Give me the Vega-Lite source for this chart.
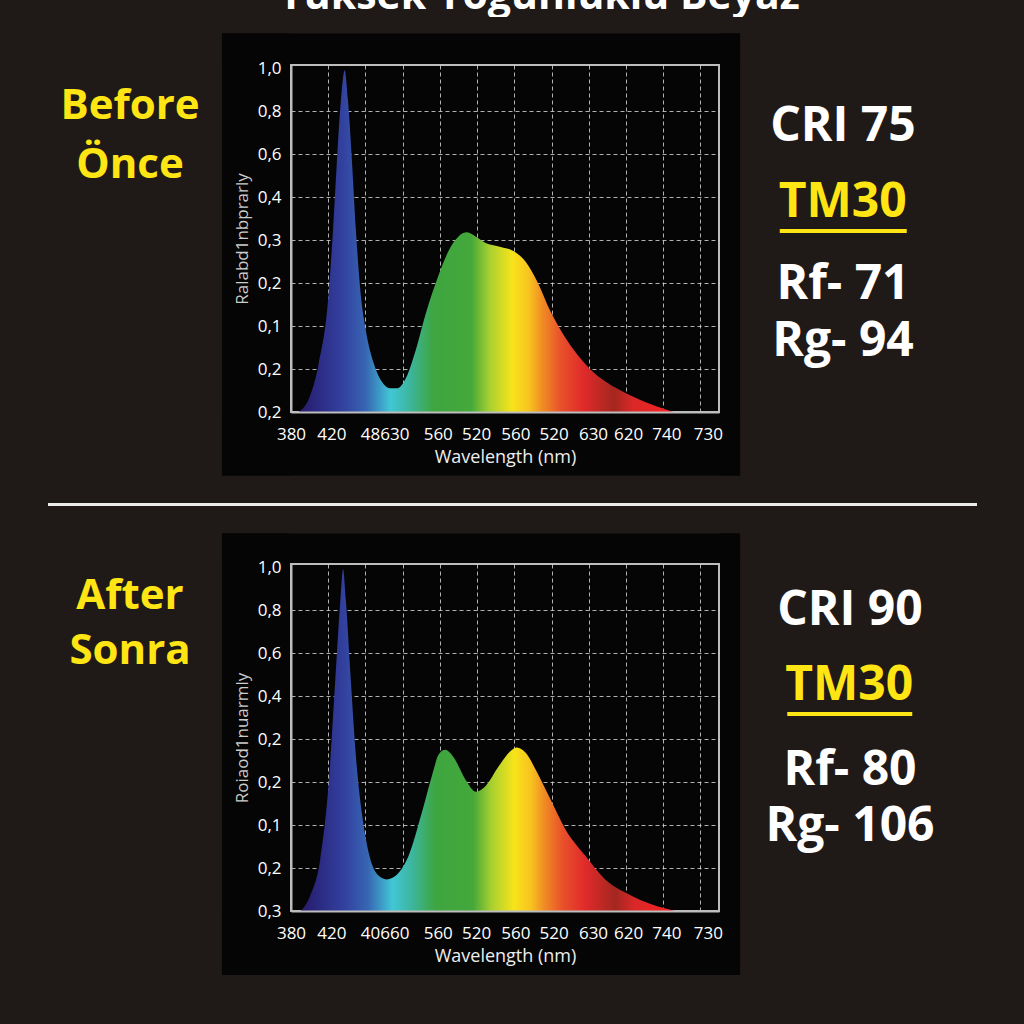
{
  "$schema": "https://vega.github.io/schema/vega-lite/v6.json",
  "background": "#1f1a17",
  "padding": 0,
  "spacing": 0,
  "config": {
    "view": {"stroke": null},
    "concat": {"spacing": 0},
    "font": "Open Sans"
  },
  "datasets": {
    "before": [
      {"wl": 387, "rel": 0}, {"wl": 397, "rel": 0.04}, {"wl": 406, "rel": 0.14}, {"wl": 415, "rel": 0.33},
      {"wl": 419.5, "rel": 0.53}, {"wl": 423, "rel": 0.72}, {"wl": 427, "rel": 0.91}, {"wl": 430.5, "rel": 0.995},
      {"wl": 433.5, "rel": 0.91}, {"wl": 437.5, "rel": 0.72}, {"wl": 441, "rel": 0.53}, {"wl": 446, "rel": 0.33},
      {"wl": 450.5, "rel": 0.235}, {"wl": 458, "rel": 0.14}, {"wl": 465, "rel": 0.09}, {"wl": 473, "rel": 0.069},
      {"wl": 480, "rel": 0.069}, {"wl": 487.5, "rel": 0.095}, {"wl": 497, "rel": 0.177}, {"wl": 506.5, "rel": 0.284},
      {"wl": 519, "rel": 0.4}, {"wl": 528, "rel": 0.468}, {"wl": 537.5, "rel": 0.511}, {"wl": 545.5, "rel": 0.523},
      {"wl": 553.5, "rel": 0.511}, {"wl": 563, "rel": 0.492}, {"wl": 575.5, "rel": 0.482}, {"wl": 591, "rel": 0.465},
      {"wl": 600.5, "rel": 0.438}, {"wl": 611.5, "rel": 0.38}, {"wl": 624, "rel": 0.293}, {"wl": 638, "rel": 0.216},
      {"wl": 660, "rel": 0.129}, {"wl": 685, "rel": 0.071}, {"wl": 707, "rel": 0.037}, {"wl": 729, "rel": 0.011},
      {"wl": 740, "rel": 0}
    ],
    "after": [
      {"wl": 389, "rel": 0}, {"wl": 398, "rel": 0.044}, {"wl": 407.5, "rel": 0.15}, {"wl": 415.5, "rel": 0.374},
      {"wl": 421.5, "rel": 0.665}, {"wl": 426.5, "rel": 0.908}, {"wl": 429, "rel": 0.995}, {"wl": 431.5, "rel": 0.908},
      {"wl": 436, "rel": 0.684}, {"wl": 440.5, "rel": 0.471}, {"wl": 447, "rel": 0.277}, {"wl": 453, "rel": 0.17},
      {"wl": 461, "rel": 0.107}, {"wl": 470, "rel": 0.092}, {"wl": 480, "rel": 0.107}, {"wl": 490.5, "rel": 0.16},
      {"wl": 503, "rel": 0.286}, {"wl": 512.5, "rel": 0.393}, {"wl": 519, "rel": 0.456}, {"wl": 525, "rel": 0.469},
      {"wl": 533, "rel": 0.447}, {"wl": 544, "rel": 0.383}, {"wl": 554, "rel": 0.347}, {"wl": 563, "rel": 0.364},
      {"wl": 575.5, "rel": 0.422}, {"wl": 586.5, "rel": 0.466}, {"wl": 592.5, "rel": 0.476}, {"wl": 600.5, "rel": 0.461},
      {"wl": 611.5, "rel": 0.403}, {"wl": 624, "rel": 0.325}, {"wl": 638, "rel": 0.238}, {"wl": 657, "rel": 0.16},
      {"wl": 675.5, "rel": 0.092}, {"wl": 697.5, "rel": 0.049}, {"wl": 719.5, "rel": 0.019}, {"wl": 741.5, "rel": 0}
    ]
  },
  "vconcat": [
    {
      "spacing": 0,
      "hconcat": [
        {"width": 54, "height": 32, "data": {"values": [{}]}, "mark": "text", "encoding": {"text": {"value": ""}}},
        {
          "width": 970, "height": 17,
          "data": {"values": [{"t": "Yüksek Yoğunluklu Beyaz"}]},
          "mark": {"type": "text", "clip": true, "baseline": "alphabetic", "fontSize": 41, "fontWeight": 700, "color": "#ffffff"},
          "encoding": {"text": {"field": "t", "type": "nominal"}}
        }
      ]
    },
    {
      "spacing": 0,
      "hconcat": [
        {
          "spacing": 0,
          "hconcat": [
            {"width": 40, "height": 80, "data": {"values": [{}]}, "mark": "text", "encoding": {"text": {"value": ""}}},
            {
              "width": 180, "height": 81.4,
              "data": {"values": [{"t": "Before\nÖnce"}]},
              "mark": {"type": "text", "baseline": "middle", "lineBreak": "\n", "lineHeight": 59, "fontSize": 42, "fontWeight": 700, "color": "#ffe514"},
              "encoding": {"text": {"field": "t", "type": "nominal"}}
            }
          ]
        },
        {
          "width": 428, "height": 347,
          "view": {"fill": "#050505", "stroke": "#bdbdbd", "strokeWidth": 2},
          "layer": [
            {
              "data": {"values": [{}]},
              "mark": {"type": "rect", "color": "#050505"},
              "encoding": {
                "x": {"datum": 315.1, "type": "quantitative", "axis": null},
                "x2": {"datum": 379.06},
                "y": {"datum": -0.1848, "type": "quantitative", "axis": null},
                "y2": {"datum": 1.1017}
              }
            },
            {
              "data": {"values": [{}]},
              "mark": {"type": "rect", "color": "#050505"},
              "encoding": {
                "x": {"datum": 783.44, "type": "quantitative", "axis": null},
                "x2": {"datum": 802.3},
                "y": {"datum": -0.1848, "type": "quantitative", "axis": null},
                "y2": {"datum": 1.1017}
              }
            },
            {
              "data": {"values": [{}]},
              "mark": {"type": "rect", "color": "#050505"},
              "encoding": {
                "x": {"datum": 315.1, "type": "quantitative", "axis": null},
                "x2": {"datum": 802.3},
                "y": {"datum": 1.0129, "type": "quantitative", "axis": null},
                "y2": {"datum": 1.1017}
              }
            },
            {
              "data": {"values": [{}]},
              "mark": {"type": "rect", "color": "#050505"},
              "encoding": {
                "x": {"datum": 315.1, "type": "quantitative", "axis": null},
                "x2": {"datum": 802.3},
                "y": {"datum": -0.1848, "type": "quantitative", "axis": null},
                "y2": {"datum": -0.0029}
              }
            },
            {
              "data": {"name": "before"},
              "mark": {
                "type": "area", "interpolate": "monotone",
                "color": {
                  "gradient": "linear", "x1": 0, "x2": 1, "y1": 0, "y2": 0,
                  "stops": [
                    {"offset": 0, "color": "#271a66"}, {"offset": 0.05, "color": "#2b2a82"},
                    {"offset": 0.12, "color": "#3342a0"}, {"offset": 0.18, "color": "#3766b3"},
                    {"offset": 0.245, "color": "#41c6d6"}, {"offset": 0.3, "color": "#3cb59a"},
                    {"offset": 0.36, "color": "#3ea540"}, {"offset": 0.46, "color": "#44a83a"},
                    {"offset": 0.51, "color": "#a9d030"}, {"offset": 0.57, "color": "#f7e41a"},
                    {"offset": 0.615, "color": "#f8c21f"}, {"offset": 0.65, "color": "#f08c24"},
                    {"offset": 0.7, "color": "#e8502a"}, {"offset": 0.76, "color": "#e02a2a"},
                    {"offset": 0.84, "color": "#a3271f"}, {"offset": 0.89, "color": "#d82828"},
                    {"offset": 1, "color": "#ff2020"}
                  ]
                }
              },
              "encoding": {
                "x": {
                  "field": "wl", "type": "quantitative",
                  "scale": {"domain": [380, 782.5], "nice": false, "zero": false},
                  "axis": {"orient": "bottom", "zindex": 0, "values": [415, 450, 485, 520, 555, 590, 625, 660, 695, 730, 765], "grid": true, "gridColor": "#d0d0d0", "gridDash": [4, 3], "gridWidth": 1, "gridOpacity": 0.85, "labels": false, "ticks": false, "domain": false, "title": null}
                },
                "y": {
                  "field": "rel", "type": "quantitative",
                  "scale": {"domain": [0, 1.01], "nice": false, "zero": false},
                  "axis": {"orient": "left", "zindex": 0, "values": [0.125, 0.25, 0.375, 0.5, 0.625, 0.75, 0.875], "grid": true, "gridColor": "#d0d0d0", "gridDash": [4, 3], "gridWidth": 1, "gridOpacity": 0.85, "labels": false, "ticks": false, "domain": false, "title": null}
                }
              }
            },
            {
              "data": {"name": "before"},
              "mark": {"type": "line", "interpolate": "monotone", "strokeOpacity": 0},
              "encoding": {
                "x": {
                  "field": "wl", "type": "quantitative",
                  "scale": {"domain": [380, 782.5], "nice": false, "zero": false},
                  "axis": {"orient": "bottom", "zindex": 1, "values": [380, 418, 468, 518, 554, 591, 627, 664, 697, 733, 772], "labelExpr": "['380','420','48630','560','520','560','520','630','620','740','730'][indexof([380,418,468,518,554,591,627,664,697,733,772], datum.value)]", "grid": false, "ticks": false, "tickSize": 0, "domain": true, "domainColor": "#bdbdbd", "domainWidth": 2, "labelColor": "#ffffff", "labelFontSize": 17, "labelPadding": 14, "labelFlush": false, "labelOverlap": false, "title": "Wavelength (nm)", "titleColor": "#eeeeee", "titleFontSize": 18, "titleFontWeight": "normal", "titlePadding": 6}
                },
                "y": {
                  "field": "rel", "type": "quantitative",
                  "scale": {"domain": [0, 1.01], "nice": false, "zero": false},
                  "axis": {"orient": "left", "zindex": 1, "values": [0, 0.125, 0.25, 0.375, 0.5, 0.625, 0.75, 0.875, 1], "labelExpr": "['0,2','0,2','0,1','0,2','0,3','0,4','0,6','0,8','1,0'][round(datum.value*8)]", "grid": false, "ticks": false, "tickSize": 0, "domain": true, "domainColor": "#bdbdbd", "domainWidth": 2, "labelColor": "#ffffff", "labelFontSize": 17, "labelPadding": 10, "labelFlush": false, "labelOverlap": false, "title": "Ralabd1nbprarly", "titleColor": "#cccccc", "titleFontSize": 17, "titleFontWeight": "normal", "titlePadding": 6}
                }
              }
            }
          ],
          "resolve": {"axis": {"x": "independent", "y": "independent"}}
        },
        {
          "spacing": 0,
          "center": true,
          "vconcat": [
            {"width": 202, "height": 13.2, "data": {"values": [{}]}, "mark": "text", "encoding": {"text": {"value": ""}}},
            {
              "width": 202, "height": 96,
              "data": {"values": [{"t": "CRI 75"}]},
              "mark": {"type": "text", "baseline": "middle", "fontSize": 48, "fontWeight": 700, "color": "#ffffff"},
              "encoding": {"text": {"field": "t", "type": "nominal"}}
            },
            {
              "width": 127, "height": 55.6,
              "data": {"values": [{"t": "TM30"}]},
              "mark": {"type": "text", "baseline": "middle", "fontSize": 48, "fontWeight": 700, "color": "#ffe514"},
              "encoding": {
                "text": {"field": "t", "type": "nominal"},
                "x": {"field": "t", "type": "nominal", "scale": {"type": "point"}, "axis": {"orient": "bottom", "domain": true, "domainColor": "#ffe514", "domainWidth": 4, "labels": false, "ticks": false, "grid": false, "title": null}}
              }
            },
            {
              "width": 202, "height": 108.8,
              "data": {"values": [{"t": "Rf- 71\nRg- 94"}]},
              "mark": {"type": "text", "baseline": "middle", "lineBreak": "\n", "lineHeight": 56.6, "fontSize": 48, "fontWeight": 700, "color": "#ffffff"},
              "encoding": {"text": {"field": "t", "type": "nominal"}}
            }
          ]
        }
      ]
    },
    {
      "spacing": 0,
      "hconcat": [
        {"width": 46, "height": 55, "data": {"values": [{}]}, "mark": "text", "encoding": {"text": {"value": ""}}},
        {
          "width": 929, "height": 55,
          "data": {"values": [{"k": "separator"}]},
          "mark": {"type": "rule", "color": "#ebebeb", "strokeWidth": 3},
          "encoding": {"y": {"field": "k", "type": "nominal", "axis": null}}
        }
      ]
    },
    {
      "spacing": 0,
      "hconcat": [
        {
          "spacing": 0,
          "hconcat": [
            {"width": 40, "height": 60, "data": {"values": [{}]}, "mark": "text", "encoding": {"text": {"value": ""}}},
            {
              "width": 180, "height": 63.8,
              "data": {"values": [{"t": "After\nSonra"}]},
              "mark": {"type": "text", "baseline": "middle", "lineBreak": "\n", "lineHeight": 55, "fontSize": 42, "fontWeight": 700, "color": "#ffe514"},
              "encoding": {"text": {"field": "t", "type": "nominal"}}
            }
          ]
        },
        {
          "width": 428, "height": 347,
          "view": {"fill": "#050505", "stroke": "#bdbdbd", "strokeWidth": 2},
          "layer": [
            {
              "data": {"values": [{}]},
              "mark": {"type": "rect", "color": "#050505"},
              "encoding": {
                "x": {"datum": 315.1, "type": "quantitative", "axis": null},
                "x2": {"datum": 379.06},
                "y": {"datum": -0.1863, "type": "quantitative", "axis": null},
                "y2": {"datum": 1.0988}
              }
            },
            {
              "data": {"values": [{}]},
              "mark": {"type": "rect", "color": "#050505"},
              "encoding": {
                "x": {"datum": 783.44, "type": "quantitative", "axis": null},
                "x2": {"datum": 802.3},
                "y": {"datum": -0.1863, "type": "quantitative", "axis": null},
                "y2": {"datum": 1.0988}
              }
            },
            {
              "data": {"values": [{}]},
              "mark": {"type": "rect", "color": "#050505"},
              "encoding": {
                "x": {"datum": 315.1, "type": "quantitative", "axis": null},
                "x2": {"datum": 802.3},
                "y": {"datum": 1.0129, "type": "quantitative", "axis": null},
                "y2": {"datum": 1.0988}
              }
            },
            {
              "data": {"values": [{}]},
              "mark": {"type": "rect", "color": "#050505"},
              "encoding": {
                "x": {"datum": 315.1, "type": "quantitative", "axis": null},
                "x2": {"datum": 802.3},
                "y": {"datum": -0.1863, "type": "quantitative", "axis": null},
                "y2": {"datum": -0.0029}
              }
            },
            {
              "data": {"name": "after"},
              "mark": {
                "type": "area", "interpolate": "monotone",
                "color": {
                  "gradient": "linear", "x1": 0, "x2": 1, "y1": 0, "y2": 0,
                  "stops": [
                    {"offset": 0, "color": "#271a66"}, {"offset": 0.05, "color": "#2b2a82"},
                    {"offset": 0.12, "color": "#3342a0"}, {"offset": 0.18, "color": "#3766b3"},
                    {"offset": 0.245, "color": "#41c6d6"}, {"offset": 0.3, "color": "#3cb59a"},
                    {"offset": 0.36, "color": "#3ea540"}, {"offset": 0.46, "color": "#44a83a"},
                    {"offset": 0.51, "color": "#a9d030"}, {"offset": 0.57, "color": "#f7e41a"},
                    {"offset": 0.615, "color": "#f8c21f"}, {"offset": 0.65, "color": "#f08c24"},
                    {"offset": 0.7, "color": "#e8502a"}, {"offset": 0.76, "color": "#e02a2a"},
                    {"offset": 0.84, "color": "#a3271f"}, {"offset": 0.89, "color": "#d82828"},
                    {"offset": 1, "color": "#ff2020"}
                  ]
                }
              },
              "encoding": {
                "x": {
                  "field": "wl", "type": "quantitative",
                  "scale": {"domain": [380, 782.5], "nice": false, "zero": false},
                  "axis": {"orient": "bottom", "zindex": 0, "values": [415, 450, 485, 520, 555, 590, 625, 660, 695, 730, 765], "grid": true, "gridColor": "#d0d0d0", "gridDash": [4, 3], "gridWidth": 1, "gridOpacity": 0.85, "labels": false, "ticks": false, "domain": false, "title": null}
                },
                "y": {
                  "field": "rel", "type": "quantitative",
                  "scale": {"domain": [0, 1.01], "nice": false, "zero": false},
                  "axis": {"orient": "left", "zindex": 0, "values": [0.125, 0.25, 0.375, 0.5, 0.625, 0.75, 0.875], "grid": true, "gridColor": "#d0d0d0", "gridDash": [4, 3], "gridWidth": 1, "gridOpacity": 0.85, "labels": false, "ticks": false, "domain": false, "title": null}
                }
              }
            },
            {
              "data": {"name": "after"},
              "mark": {"type": "line", "interpolate": "monotone", "strokeOpacity": 0},
              "encoding": {
                "x": {
                  "field": "wl", "type": "quantitative",
                  "scale": {"domain": [380, 782.5], "nice": false, "zero": false},
                  "axis": {"orient": "bottom", "zindex": 1, "values": [380, 418, 468, 518, 554, 591, 627, 664, 697, 733, 772], "labelExpr": "['380','420','40660','560','520','560','520','630','620','740','730'][indexof([380,418,468,518,554,591,627,664,697,733,772], datum.value)]", "grid": false, "ticks": false, "tickSize": 0, "domain": true, "domainColor": "#bdbdbd", "domainWidth": 2, "labelColor": "#ffffff", "labelFontSize": 17, "labelPadding": 14, "labelFlush": false, "labelOverlap": false, "title": "Wavelength (nm)", "titleColor": "#eeeeee", "titleFontSize": 18, "titleFontWeight": "normal", "titlePadding": 6}
                },
                "y": {
                  "field": "rel", "type": "quantitative",
                  "scale": {"domain": [0, 1.01], "nice": false, "zero": false},
                  "axis": {"orient": "left", "zindex": 1, "values": [0, 0.125, 0.25, 0.375, 0.5, 0.625, 0.75, 0.875, 1], "labelExpr": "['0,3','0,2','0,1','0,2','0,2','0,4','0,6','0,8','1,0'][round(datum.value*8)]", "grid": false, "ticks": false, "tickSize": 0, "domain": true, "domainColor": "#bdbdbd", "domainWidth": 2, "labelColor": "#ffffff", "labelFontSize": 17, "labelPadding": 10, "labelFlush": false, "labelOverlap": false, "title": "Roiaod1nuarmly", "titleColor": "#cccccc", "titleFontSize": 17, "titleFontWeight": "normal", "titlePadding": 6}
                }
              }
            }
          ],
          "resolve": {"axis": {"x": "independent", "y": "independent"}}
        },
        {
          "spacing": 0,
          "center": true,
          "vconcat": [
            {
              "width": 216, "height": 93.5,
              "data": {"values": [{"t": "CRI 90"}]},
              "mark": {"type": "text", "baseline": "middle", "fontSize": 48, "fontWeight": 700, "color": "#ffffff"},
              "encoding": {"text": {"field": "t", "type": "nominal"}}
            },
            {
              "width": 125, "height": 55.4,
              "data": {"values": [{"t": "TM30"}]},
              "mark": {"type": "text", "baseline": "middle", "fontSize": 48, "fontWeight": 700, "color": "#ffe514"},
              "encoding": {
                "text": {"field": "t", "type": "nominal"},
                "x": {"field": "t", "type": "nominal", "scale": {"type": "point"}, "axis": {"orient": "bottom", "domain": true, "domainColor": "#ffe514", "domainWidth": 4, "labels": false, "ticks": false, "grid": false, "title": null}}
              }
            },
            {
              "width": 216, "height": 113,
              "data": {"values": [{"t": "Rf- 80\nRg- 106"}]},
              "mark": {"type": "text", "baseline": "middle", "lineBreak": "\n", "lineHeight": 56.6, "fontSize": 48, "fontWeight": 700, "color": "#ffffff"},
              "encoding": {"text": {"field": "t", "type": "nominal"}}
            }
          ]
        }
      ]
    },
    {"width": 1, "height": 48.5, "data": {"values": [{}]}, "mark": "text", "encoding": {"text": {"value": ""}}}
  ]
}
